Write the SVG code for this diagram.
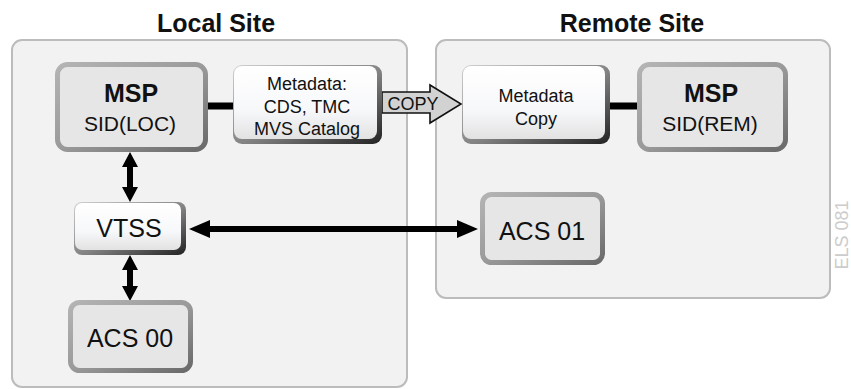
<svg xmlns="http://www.w3.org/2000/svg" width="851" height="389" viewBox="0 0 851 389">
<defs>
<linearGradient id="msbd" x1="0" y1="0" x2="1" y2="1">
<stop offset="0" stop-color="#b4b4b4"/><stop offset="0.5" stop-color="#9a9a9a"/><stop offset="1" stop-color="#6a6a6a"/>
</linearGradient>
<linearGradient id="mdsh" x1="0" y1="0" x2="1" y2="1">
<stop offset="0" stop-color="#d0d0d0"/><stop offset="0.55" stop-color="#808080"/><stop offset="1" stop-color="#222222"/>
</linearGradient>
<linearGradient id="mdfill" x1="0" y1="0" x2="0" y2="1">
<stop offset="0" stop-color="#ffffff"/><stop offset="0.6" stop-color="#f7f8fa"/><stop offset="1" stop-color="#e2e2e2"/>
</linearGradient>
<style>
.site{fill:#f2f2f2;stroke:#bcbcbc;stroke-width:2}
.gb{fill:#e6e6e6;stroke:url(#msbd);stroke-width:5}
.sh{fill:url(#mdsh)}
.wf{fill:url(#mdfill)}
text{font-family:"Liberation Sans",Arial,sans-serif;fill:#111;text-anchor:middle}
.title{font-size:25px;font-weight:bold}
.big{font-size:25px;font-weight:bold}
.sub{font-size:21px}
.md{font-size:18px}
.nm{font-size:25px}
.line{stroke:#000;stroke-width:7}
.arr{fill:#000}
</style>
</defs>
<g id="local-site">
<rect class="site" x="12" y="40" width="395" height="347" rx="10"/>
<text class="title" x="216" y="32">Local Site</text>
</g>
<g id="remote-site">
<rect class="site" x="436" y="40" width="394" height="258" rx="10"/>
<text class="title" x="632" y="32">Remote Site</text>
</g>
<g id="connectors">
<line class="line" x1="206" y1="106" x2="236" y2="106"/>
<line class="line" x1="606" y1="106" x2="640" y2="106"/>
<path class="arr" d="M130,152 L138,167 L133,167 L133,187 L138,187 L130,202 L122,187 L127,187 L127,167 L122,167 Z"/>
<path class="arr" d="M130,255 L138,270 L133,270 L133,286 L138,286 L130,301 L122,286 L127,286 L127,270 L122,270 Z"/>
<path class="arr" d="M189,229 L210,220 L210,226 L457,226 L457,220 L478,229 L457,238 L457,232 L210,232 L210,238 Z"/>
<g id="copy-arrow">
<path d="M382,92 L430,92 L430,85 L461,104 L430,123 L430,113 L382,113 Z" fill="#d2d2d2" stroke="#111" stroke-width="1.6" stroke-linejoin="miter"/>
<text class="md" x="413" y="110">COPY</text>
</g>
</g>
<g id="msp-loc">
<rect class="gb" x="57.5" y="64.5" width="148" height="85" rx="10"/>
<text class="big" x="131" y="102">MSP</text>
<text class="sub" x="130" y="131">SID(LOC)</text>
</g>
<g id="metadata">
<rect class="sh" x="233" y="65" width="149" height="79" rx="9"/>
<rect class="wf" x="234" y="66" width="143" height="73" rx="8"/>
<text class="md" x="307" y="90">Metadata:</text>
<text class="md" x="307" y="113">CDS, TMC</text>
<text class="md" x="307" y="135">MVS Catalog</text>
</g>
<g id="metadata-copy">
<rect class="sh" x="462" y="65" width="148" height="79" rx="9"/>
<rect class="wf" x="463" y="66" width="142" height="73" rx="8"/>
<text class="md" x="536" y="102">Metadata</text>
<text class="md" x="536" y="125">Copy</text>
</g>
<g id="msp-rem">
<rect class="gb" x="639.5" y="64.5" width="146" height="85" rx="10"/>
<text class="big" x="711" y="102">MSP</text>
<text class="sub" x="710" y="131">SID(REM)</text>
</g>
<g id="vtss">
<rect class="sh" x="74" y="202" width="112" height="53" rx="8"/>
<rect class="wf" x="75" y="203" width="106" height="47" rx="7"/>
<text class="nm" x="129" y="237">VTSS</text>
</g>
<g id="acs00">
<rect class="gb" x="70.5" y="302.5" width="120" height="68" rx="9"/>
<text class="nm" x="130" y="347">ACS 00</text>
</g>
<g id="acs01">
<rect class="gb" x="482.5" y="194.5" width="120" height="68" rx="9"/>
<text class="nm" x="542" y="240">ACS 01</text>
</g>
<text x="0" y="0" transform="translate(848,235) rotate(-90)" style="font-size:18px;fill:#cccccc">ELS 081</text>
</svg>
